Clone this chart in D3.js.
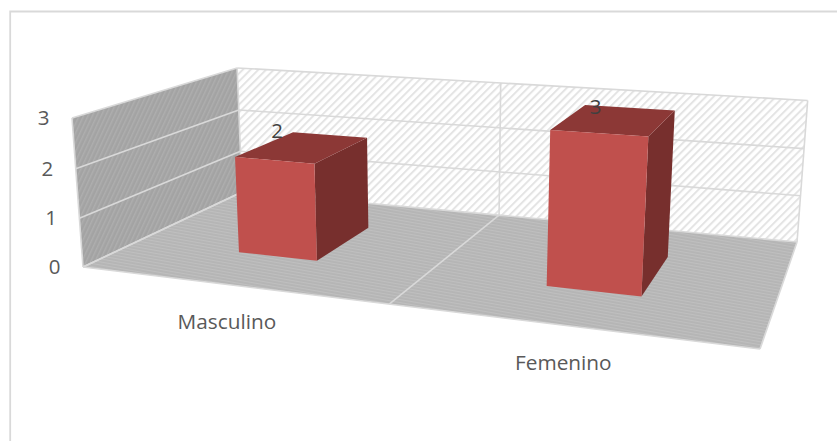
<!DOCTYPE html>
<html><head><meta charset="utf-8">
<script src="https://cdn.jsdelivr.net/npm/d3@7"></script>
<style>html,body{margin:0;padding:0;background:#fff}svg{display:block}text{font-family:"Open Sans",Lato,sans-serif}</style>
</head><body><svg id="c" width="837" height="441"></svg>
<script>
const categories = ["Masculino","Femenino"];
const values = [2,3];
const valueTicks = [0,1,2,3];

const svg = d3.select("#c");
const defs = svg.append("defs");
function hatch(id,bg,fg,size,sw,angle){
  const p = defs.append("pattern").attr("id",id).attr("patternUnits","userSpaceOnUse")
    .attr("width",size).attr("height",size).attr("patternTransform","rotate("+angle+")");
  p.append("rect").attr("width",size).attr("height",size).attr("fill",bg);
  p.append("rect").attr("width",sw).attr("height",size).attr("fill",fg);
}
hatch("hBack","#ffffff","#e4e4e4",5.5,2,45);
hatch("hLeft","#a3a3a3","#aeaeae",4,1.5,25);
hatch("hFloor","#b5b5b5","#bfbfbf",3,1.1,100);

// chart scales: unit cube coordinates
const U = d3.scaleBand().domain(categories).range([0.005,1.005]).paddingInner(0.728).paddingOuter(0.364);
const V = d3.scaleLinear().domain([0,3]).range([0,1]);
const barDepth = [0.30,0.70];
const catBoundaries = [0,0.505,1];

// projective camera mapping the unit cube to the page
const cam = {a:532.3,b:215.3,p:-13.16,c:83,d:15.6,e:-30.4,q:-152.5,f:267,g:-0.1904,h:0.2325,i:-0.03};
function proj(u,w,v){
  const n = cam.g*u+cam.h*w+cam.i*v+1;
  return [(cam.a*u+cam.b*w+cam.p*v+cam.c)/n,(cam.d*u+cam.e*w+cam.q*v+cam.f)/n+(4*u-2*w)*v];
}
const poly = pts => "M"+pts.map(p=>p.map(n=>n.toFixed(2)).join(",")).join("L")+"Z";
const seg = (a,b) => d3.line()([a,b]);
const gridC = "#d9d9d9";

// frame
svg.append("path").attr("d","M10.2,441V11.5H837").attr("fill","none").attr("stroke","#d9d9d9").attr("stroke-width",1.8);

// walls and floor
svg.append("path").attr("d",poly([proj(0,0,0),proj(0,1,0),proj(0,1,1),proj(0,0,1)])).attr("fill","url(#hLeft)");
svg.append("path").attr("d",poly([proj(0,1,0),proj(1,1,0),proj(1,1,1),proj(0,1,1)])).attr("fill","url(#hBack)");
svg.append("path").attr("d",poly([proj(0,0,0),proj(1,0,0),proj(1,1,0),proj(0,1,0)])).attr("fill","url(#hFloor)");

// gridlines
const g = svg.append("g").attr("fill","none").attr("stroke",gridC).attr("stroke-width",1.6);
valueTicks.forEach(t=>{
  const v=V(t);
  g.append("path").attr("d",seg(proj(0,0,v),proj(0,1,v)));
  g.append("path").attr("d",seg(proj(0,1,v),proj(1,1,v)));
});
catBoundaries.forEach(u=>{
  g.append("path").attr("d",seg(proj(u,1,0),proj(u,1,1)));
  g.append("path").attr("d",seg(proj(u,0,0),proj(u,1,0)));
});
g.append("path").attr("d",seg(proj(0,0,0),proj(0,0,1)));
g.append("path").attr("d",seg(proj(0,0,0),proj(1,0,0)));

// bars
const labelShift = [[-26,-9],[-19,-6]];
categories.forEach((c,i)=>{
  const u0=U(c),u1=U(c)+U.bandwidth(),w0=barDepth[0],w1=barDepth[1],v=V(values[i]);
  const bar = svg.append("g");
  bar.append("path").attr("d",poly([proj(u1,w0,0),proj(u1,w1,0),proj(u1,w1,v),proj(u1,w0,v)])).attr("fill","#772f2d");
  bar.append("path").attr("d",poly([proj(u0,w0,v),proj(u1,w0,v),proj(u1,w1,v),proj(u0,w1,v)])).attr("fill","#8c3836");
  bar.append("path").attr("d",poly([proj(u0,w0,0),proj(u1,w0,0),proj(u1,w0,v),proj(u0,w0,v)])).attr("fill","#c0504d");
  const top = proj(U(c)+U.bandwidth()*0.5,0.5,v);
  svg.append("text").attr("x",top[0]+labelShift[i][0]).attr("y",top[1]+labelShift[i][1]).attr("text-anchor","middle")
    .attr("font-size",20.5).attr("fill","#404040").text(values[i]);
});

// value axis labels
valueTicks.forEach(t=>{
  const p = proj(0,0,V(t));
  svg.append("text").attr("x",p[0]-22.5).attr("y",p[1]+7).attr("text-anchor","end")
    .attr("font-size",20.5).attr("fill","#595959").text(t);
});

// category labels
categories.forEach(c=>{
  const p = proj(U(c)+U.bandwidth()/2,0,0);
  svg.append("text").attr("x",p[0]-3).attr("y",p[1]+44.5).attr("text-anchor","middle")
    .attr("font-size",20.8).attr("fill","#595959").text(c);
});
</script></body></html>
